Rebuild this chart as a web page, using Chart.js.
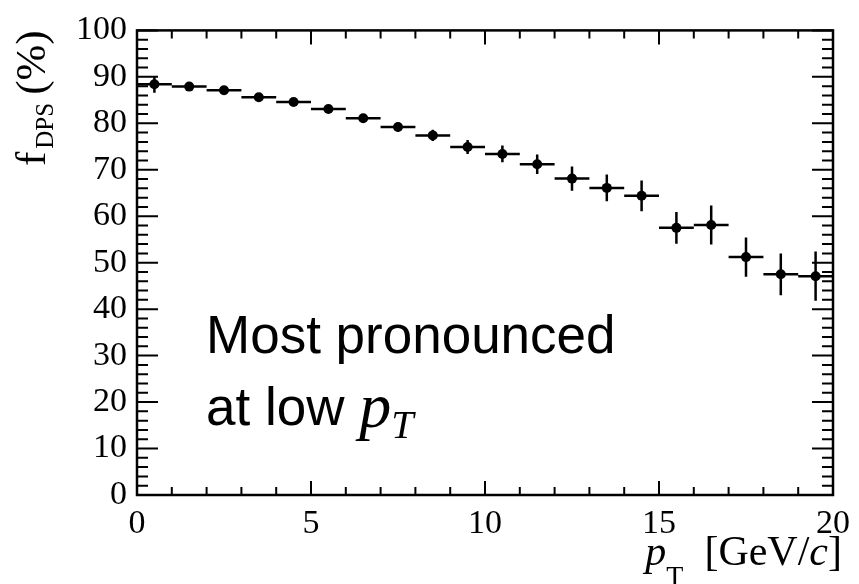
<!DOCTYPE html>
<html>
<head>
<meta charset="utf-8">
<script src="https://cdn.jsdelivr.net/npm/chart.js@4.4.0/dist/chart.umd.min.js"></script>
<style>
  html, body { margin: 0; padding: 0; background: #fff; }
  #wrap { width: 859px; height: 584px; }
</style>
</head>
<body>
<div id="wrap"><canvas id="grafica"></canvas></div>
<script>
// ==========================================
// DATOS
// ==========================================
const binCentros = [0.5, 1.5, 2.5, 3.5, 4.5, 5.5, 6.5, 7.5, 8.5, 9.5,
                    10.5, 11.5, 12.5, 13.5, 14.5, 15.5, 16.5, 17.5, 18.5, 19.5];
const binMedioAncho = [0.5, 0.5, 0.5, 0.5, 0.5, 0.5, 0.5, 0.5, 0.5, 0.5,
                       0.5, 0.5, 0.5, 0.5, 0.5, 0.5, 0.5, 0.5, 0.5, 0.5];
const fDPS = [88.4, 87.9, 87.1, 85.6, 84.6, 83.1, 81.1, 79.2, 77.4, 74.9,
              73.4, 71.2, 68.1, 66.1, 64.4, 57.5, 58.1, 51.2, 47.5, 47.1];
const errDPS = [1.8, 0.8, 0.8, 0.8, 0.8, 0.8, 0.9, 1.0, 1.2, 1.5,
                1.8, 2.1, 2.6, 2.9, 3.3, 3.4, 4.2, 4.2, 4.5, 5.3];
const ticksX = [0, 5, 10, 15, 20];
const ticksY = [0, 10, 20, 30, 40, 50, 60, 70, 80, 90, 100];

const SERIF = '"Liberation Serif", "Times New Roman", serif';
const SANS = '"Liberation Sans", Helvetica, Arial, sans-serif';

const puntos = binCentros.map((x, i) => ({ x: x, y: fDPS[i] }));

// ==========================================
// PLUGIN: barras de error, marco y ticks hacia dentro
// ==========================================
const barrasError = {
  id: 'barrasError',
  beforeDatasetsDraw(chart) {
    const { ctx, scales: { x, y } } = chart;
    ctx.save();
    ctx.strokeStyle = '#000';
    ctx.lineWidth = 2.5;
    ctx.beginPath();
    binCentros.forEach((xc, i) => {
      const px = x.getPixelForValue(xc);
      const py = y.getPixelForValue(fDPS[i]);
      ctx.moveTo(x.getPixelForValue(xc - binMedioAncho[i]), py);
      ctx.lineTo(x.getPixelForValue(xc + binMedioAncho[i]), py);
      ctx.moveTo(px, y.getPixelForValue(fDPS[i] - errDPS[i]));
      ctx.lineTo(px, y.getPixelForValue(fDPS[i] + errDPS[i]));
    });
    ctx.stroke();
    ctx.restore();
  }
};

const marco = {
  id: 'marco',
  afterDraw(chart) {
    const { ctx, chartArea: a, scales: { x, y } } = chart;
    ctx.save();
    ctx.strokeStyle = '#000';
    ctx.lineWidth = 2.5;
    ctx.strokeRect(a.left, a.top, a.right - a.left, a.bottom - a.top);

    ctx.beginPath();
    // ticks eje X (abajo y arriba)
    for (let v = 0; v <= 20; v++) {
      const px = x.getPixelForValue(v);
      const len = v % 5 === 0 ? 14 : 8;
      ctx.moveTo(px, a.bottom); ctx.lineTo(px, a.bottom - len);
      ctx.moveTo(px, a.top); ctx.lineTo(px, a.top + len);
    }
    // ticks eje Y (izquierda y derecha)
    for (let v = 0; v <= 100; v += 2) {
      const py = y.getPixelForValue(v);
      const len = v % 10 === 0 ? 21 : 11;
      ctx.moveTo(a.left, py); ctx.lineTo(a.left + len, py);
      ctx.moveTo(a.right, py); ctx.lineTo(a.right - len, py);
    }
    ctx.lineWidth = 2;
    ctx.stroke();

    // título eje Y: f_DPS (%)
    ctx.fillStyle = '#000';
    ctx.save();
    ctx.translate(45, 166);
    ctx.rotate(-Math.PI / 2);
    ctx.textBaseline = 'alphabetic';
    ctx.textAlign = 'left';
    let cx = 0;
    ctx.font = '43px ' + SERIF;
    ctx.fillText('f', cx, 0);
    cx += ctx.measureText('f').width + 3;
    ctx.font = '25px ' + SERIF;
    ctx.fillText('DPS', cx, 8);
    cx += ctx.measureText('DPS').width + 8;
    ctx.font = '43px ' + SERIF;
    ctx.fillText('(%)', cx, 0);
    ctx.restore();

    // título eje X: p_T [GeV/c] alineado a la derecha
    const base = 565;
    const partes = [
      { t: 'p', f: 'italic 42px ' + SERIF, dy: 0 },
      { t: 'T', f: '28px ' + SERIF, dy: 20 },
      { t: '  [GeV/', f: '42px ' + SERIF, dy: 0 },
      { t: 'c', f: 'italic 42px ' + SERIF, dy: 0 },
      { t: ']', f: '42px ' + SERIF, dy: 0 }
    ];
    let total = 0;
    partes.forEach(p => { ctx.font = p.f; p.w = ctx.measureText(p.t).width; total += p.w; });
    let sx = 842 - total;
    partes.forEach(p => { ctx.font = p.f; ctx.fillText(p.t, sx, base + p.dy); sx += p.w; });

    // anotación
    ctx.font = '53px ' + SANS;
    ctx.fillText('Most pronounced', 206, 353);
    ctx.fillText('at low ', 206, 425);
    let ax = 206 + ctx.measureText('at low ').width;
    ctx.font = 'italic 64px ' + SERIF;
    ctx.fillText('p', ax, 427);
    ax += ctx.measureText('p').width;
    ctx.font = 'italic 40px ' + SERIF;
    ctx.fillText('T', ax, 438);
    ctx.restore();
  }
};

// ==========================================
// GRÁFICA
// ==========================================
const ctx = document.getElementById('grafica').getContext('2d');
const miGrafica = new Chart(ctx, {
  type: 'scatter',
  data: {
    datasets: [{
      label: 'f_DPS',
      data: puntos,
      backgroundColor: '#000',
      borderColor: '#000',
      pointRadius: 5,
      pointHoverRadius: 5,
      borderWidth: 0
    }]
  },
  options: {
    responsive: true,
    maintainAspectRatio: false,
    animation: false,
    events: [],
    layout: { padding: { left: 0, top: 29, right: 18, bottom: 0 } },
    plugins: { legend: { display: false }, tooltip: { enabled: false } },
    scales: {
      x: {
        type: 'linear',
        min: 0, max: 20,
        afterFit: s => { s.height = 89; },
        afterBuildTicks: s => { s.ticks = ticksX.map(v => ({ value: v })); },
        grid: { display: false, drawTicks: false },
        border: { display: false },
        ticks: {
          autoSkip: false, maxRotation: 0, padding: 9,
          color: '#000', font: { family: SERIF, size: 34 }
        }
      },
      y: {
        type: 'linear',
        min: 0, max: 100,
        afterFit: s => { s.width = 137; },
        afterBuildTicks: s => { s.ticks = ticksY.map(v => ({ value: v })); },
        grid: { display: false, drawTicks: false },
        border: { display: false },
        ticks: {
          autoSkip: false, padding: 10,
          color: '#000', font: { family: SERIF, size: 34 }
        }
      }
    }
  },
  plugins: [barrasError, marco]
});
</script>
</body>
</html>
